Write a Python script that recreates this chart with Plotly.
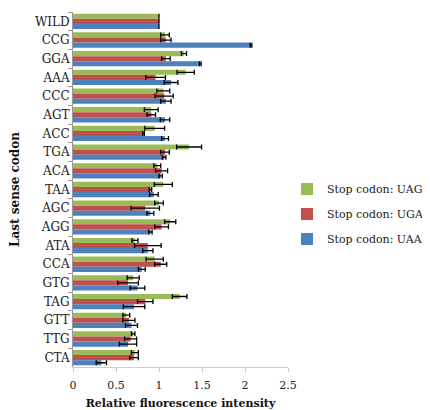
import plotly.graph_objects as go

codons = ["WILD", "CCG", "GGA", "AAA", "CCC", "AGT", "ACC", "TGA", "ACA", "TAA",
          "AGC", "AGG", "ATA", "CCA", "GTG", "TAG", "GTT", "TTG", "CTA"]

uag = [1.0, 1.07, 1.29, 1.31, 1.05, 0.91, 0.95, 1.35, 0.98, 1.05,
       1.0, 1.13, 0.72, 0.95, 0.70, 1.24, 0.62, 0.70, 0.72]
uag_err = [0, 0.05, 0.03, 0.10, 0.075, 0.08, 0.115, 0.145, 0.04, 0.105,
           0.05, 0.065, 0.035, 0.10, 0.07, 0.085, 0.04, 0.02, 0.04]

uga = [1.0, 1.08, 1.08, 0.96, 1.06, 0.91, 0.82, 1.07, 1.03, 0.90,
       0.84, 1.03, 0.87, 1.02, 0.64, 0.84, 0.65, 0.67, 0.71]
uga_err = [0, 0.06, 0.05, 0.115, 0.105, 0.05, 0.01, 0.05, 0.07, 0.015,
           0.165, 0.08, 0.155, 0.07, 0.12, 0.09, 0.07, 0.07, 0.05]

uaa = [1.0, 2.07, 1.48, 1.14, 1.08, 1.07, 1.07, 1.06, 1.02, 0.94,
       0.90, 0.90, 0.87, 0.80, 0.75, 0.71, 0.68, 0.64, 0.33]
uaa_err = [0, 0.01, 0.01, 0.08, 0.06, 0.055, 0.04, 0.02, 0.02, 0.05,
           0.04, 0.02, 0.06, 0.04, 0.085, 0.125, 0.07, 0.10, 0.06]

series_names = ["Stop codon: UAG", "Stop codon: UGA", "Stop codon: UAA"]
x_ticks = [0, 0.5, 1, 1.5, 2, 2.5]
x_tick_labels = ["0", "0.5", "1", "1.5", "2", "2.5"]

colors = ["#9BBB59", "#C0504D", "#4F81BD"]
FONT = "DejaVu Serif"

# the page body adds an 8px offset, so the figure is 8px smaller than the window
W, H = 422, 402

fig = go.Figure()
for name, vals, errs, col in zip(series_names, [uag, uga, uaa], [uag_err, uga_err, uaa_err], colors):
    fig.add_trace(go.Bar(
        y=codons, x=vals, orientation="h", name=name, legendgroup=name,
        marker=dict(color=col, line=dict(width=0)),
        error_x=dict(type="data", array=errs, visible=True, color="black",
                     thickness=1.3, width=2.5),
    ))

fig.update_layout(
    width=W, height=H,
    margin=dict(l=65, r=142, t=4, b=43, autoexpand=False),
    plot_bgcolor="white", paper_bgcolor="white",
    barmode="group", bargap=0.18, bargroupgap=0,
    font=dict(family=FONT, size=11, color="#222"),
    showlegend=True,
    legend=dict(xref="container", yref="container", x=279 / W, y=1 - 206 / H,
                xanchor="left", yanchor="middle",
                traceorder="grouped", font=dict(family=FONT, size=11, color="#222"),
                itemwidth=30, tracegroupgap=6, bgcolor="rgba(0,0,0,0)"),
)
fig.update_yaxes(
    autorange="reversed", showline=True, linecolor="#999", linewidth=1,
    ticks="outside", tickson="boundaries", ticklen=4, tickcolor="#999",
    showgrid=False, automargin=False, tickfont=dict(family=FONT, size=12, color="#222"),
    title=dict(text="<b>Last sense codon</b>", font=dict(family=FONT, size=12, color="#111"),
               standoff=20),
)
fig.update_xaxes(
    range=[0, 2.5], tickvals=x_ticks, ticktext=x_tick_labels,
    showline=True, linecolor="#ccc", linewidth=1, ticks="outside", ticklen=4,
    tickcolor="#ccc", showgrid=False, zeroline=False, automargin=False,
    ticklabelstandoff=4,
    tickfont=dict(family=FONT, size=11, color="#222"),
    title=dict(text="<b>Relative fluorescence intensity</b>",
               font=dict(family=FONT, size=11, color="#111"), standoff=11),
)

fig.write_html("out.html")
